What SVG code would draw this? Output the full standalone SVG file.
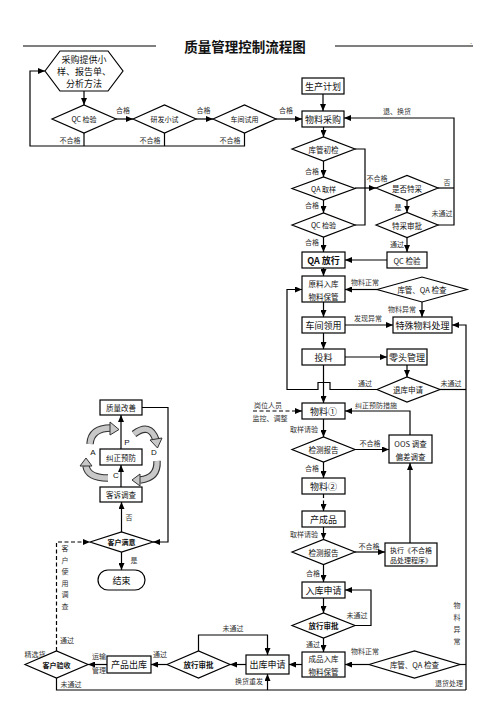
<svg xmlns="http://www.w3.org/2000/svg" width="496" height="702" viewBox="0 0 496 702">
<defs>
<style>
.bx{fill:#fff;stroke:#000;stroke-width:1.2}
.ln{fill:none;stroke:#000;stroke-width:1.2}
.ds{stroke-dasharray:4 2.5}
text{font-family:"Noto Sans CJK SC","Noto Sans",sans-serif;text-anchor:middle;dominant-baseline:central;fill:#111}
.n{font-size:9px}
.s{font-size:7.5px}
.d{font-size:7px}
.b{font-weight:bold}
.l{font-size:7px;fill:#333}
.arc{fill:none;stroke:#333;stroke-width:7.5}
.arci{fill:none;stroke:#c8c8c8;stroke-width:5.3}
.hd{fill:#c8c8c8;stroke:#333;stroke-width:1}
</style>
<marker id="ar" markerUnits="userSpaceOnUse" markerWidth="7" markerHeight="6" refX="7" refY="3" orient="auto"><path d="M0,0 L7,3 L0,6 z" fill="#000"/></marker>
</defs>
<rect width="496" height="702" fill="#fff"/>
<g id="title">
<line x1="23" y1="46" x2="156" y2="46" stroke="#000" stroke-width="1.2"/>
<line x1="335" y1="46" x2="473" y2="46" stroke="#000" stroke-width="1.2"/>
<text x="245" y="46" style="font-size:13.5px;font-weight:bold">质量管理控制流程图</text>
<text x="471" y="41" style="font-size:6px">.</text>
</g>
<g id="connectors">
<path class="ln" d="M84,91 V105" marker-end="url(#ar)"/>
<path class="ln" d="M116,119 H133" marker-end="url(#ar)"/>
<path class="ln" d="M196,119 H213" marker-end="url(#ar)"/>
<path class="ln" d="M276,119 H302" marker-end="url(#ar)"/>
<path class="ln" d="M84,133 V146"/>
<path class="ln" d="M164.5,133 V146"/>
<path class="ln" d="M244.5,133 V146 H30 V71 H45" marker-end="url(#ar)"/>
<path class="ln" d="M323,94 V111" marker-end="url(#ar)"/>
<path class="ln" d="M323.5,127 V137" marker-end="url(#ar)"/>
<path class="ln" d="M323.5,161 V177" marker-end="url(#ar)"/>
<path class="ln" d="M323.5,200 V213" marker-end="url(#ar)"/>
<path class="ln" d="M323.5,237 V252" marker-end="url(#ar)"/>
<path class="ln" d="M355,149 H365 V225 H355"/>
<path class="ln" d="M355,188 H376" marker-end="url(#ar)"/>
<path class="ln" d="M407,200.5 V212.5" marker-end="url(#ar)"/>
<path class="ln" d="M407,237.5 V252" marker-end="url(#ar)"/>
<path class="ln" d="M387,260 H345" marker-end="url(#ar)"/>
<path class="ln" d="M438,188 H454"/>
<path class="ln" d="M438,225 H454 V118 H344" marker-end="url(#ar)"/>
<path class="ln" d="M323.5,268 V276" marker-end="url(#ar)"/>
<path class="ln" d="M377,289.5 H345" marker-end="url(#ar)"/>
<path class="ln" d="M422,302 V317" marker-end="url(#ar)"/>
<path class="ln" d="M323.5,302 V317" marker-end="url(#ar)"/>
<path class="ln" d="M345,325 H393" marker-end="url(#ar)"/>
<path class="ln" d="M323.5,333 V349" marker-end="url(#ar)"/>
<path class="ln" d="M345,357 H387" marker-end="url(#ar)"/>
<path class="ln" d="M407,365 V377" marker-end="url(#ar)"/>
<path class="ln" d="M377,389.5 H330 V382.5 H318 V389.5 H287 V289.5 H302" marker-end="url(#ar)"/>
<path class="ln" d="M440,389.5 H466"/>
<path class="ln" d="M466,690 V325 H452" marker-end="url(#ar)"/>
<path class="ln" d="M56.5,678 V690 H466"/>
<path class="ln" d="M460,664.5 H466"/>
<path class="ln" d="M323.5,365 V403" marker-end="url(#ar)"/>
<path class="ln ds" d="M253,411 H302" marker-end="url(#ar)"/>
<path class="ln" d="M410,435 V411 H345" marker-end="url(#ar)"/>
<path class="ln" d="M323.5,419 V437" marker-end="url(#ar)"/>
<path class="ln" d="M355,449.5 H389" marker-end="url(#ar)"/>
<path class="ln" d="M323.5,462 V478" marker-end="url(#ar)"/>
<path class="ln ds" d="M323.5,494 V511" marker-end="url(#ar)"/>
<path class="ln" d="M323.5,527 V539.5" marker-end="url(#ar)"/>
<path class="ln" d="M355,552 H385" marker-end="url(#ar)"/>
<path class="ln" d="M410,543 V463" marker-end="url(#ar)"/>
<path class="ln" d="M323.5,564.5 V582" marker-end="url(#ar)"/>
<path class="ln" d="M323.5,598 V613" marker-end="url(#ar)"/>
<path class="ln" d="M355,625.5 H371 V590 H345" marker-end="url(#ar)"/>
<path class="ln" d="M323.5,638 V652" marker-end="url(#ar)"/>
<path class="ln" d="M369,664.5 H345" marker-end="url(#ar)"/>
<path class="ln" d="M302,664.5 H289" marker-end="url(#ar)"/>
<path class="ln" d="M246,664.5 H230" marker-end="url(#ar)"/>
<path class="ln" d="M198.5,651 V635 H267.5 V655" marker-end="url(#ar)"/>
<path class="ln" d="M167,664.5 H151" marker-end="url(#ar)"/>
<path class="ln" d="M107,664.5 H88" marker-end="url(#ar)"/>
<path class="ln" d="M267.5,690 V674" marker-end="url(#ar)"/>
<path class="ln ds" d="M56.5,651 V542 H90" marker-end="url(#ar)"/>
<path class="ln" d="M121,487 V465" marker-end="url(#ar)"/>
<path class="ln" d="M121,449 V415" marker-end="url(#ar)"/>
<path class="ln" d="M142,407.5 H168 V542 H153" marker-end="url(#ar)"/>
<path class="ln" d="M121.5,532 V502" marker-end="url(#ar)"/>
<path class="ln" d="M121.5,552 V570" marker-end="url(#ar)"/>
</g>
<g id="labels">
<text class="l" x="123" y="110">合格</text>
<text class="l" x="203.5" y="110">合格</text>
<text class="l" x="286" y="110">合格</text>
<text class="l" x="70" y="140">不合格</text>
<text class="l" x="150" y="140">不合格</text>
<text class="l" x="230" y="140">不合格</text>
<text class="l" x="397" y="111">退、换货</text>
<text class="l" x="312" y="171">合格</text>
<text class="l" x="312" y="205">合格</text>
<text class="l" x="312" y="242">合格</text>
<text class="l" x="377" y="178">不合格</text>
<text class="l" x="447" y="182">否</text>
<text class="l" x="398" y="207">是</text>
<text class="l" x="442" y="213">未通过</text>
<text class="l" x="397" y="244">通过</text>
<text class="l" x="365" y="282">物料正常</text>
<text class="l" x="402" y="309">物料异常</text>
<text class="l" x="368" y="318">发现异常</text>
<text class="l" x="365" y="383">通过</text>
<text class="l" x="451" y="383">未通过</text>
<text class="l" x="376" y="405">纠正预防措施</text>
<text class="l" x="268" y="405">岗位人员</text>
<text class="l" x="270" y="418">监控、调整</text>
<text class="l" x="304" y="429">取样请验</text>
<text class="l" x="370" y="443">不合格</text>
<text class="l" x="312" y="468">合格</text>
<text class="l" x="304" y="534">取样请验</text>
<text class="l" x="369" y="546">不合格</text>
<text class="l" x="313" y="573">合格</text>
<text class="l" x="357" y="615">未通过</text>
<text class="l" x="313" y="644">通过</text>
<text class="l" x="365" y="651">物料正常</text>
<text class="l" x="457" y="605">物</text>
<text class="l" x="457" y="617">料</text>
<text class="l" x="457" y="629">异</text>
<text class="l" x="457" y="641">常</text>
<text class="l" x="449" y="683">退货处理</text>
<text class="l" x="249" y="681">换货重发</text>
<text class="l" x="233" y="628">未通过</text>
<text class="l" x="160" y="654">通过</text>
<text class="l" x="99" y="656">运输</text>
<text class="l" x="99" y="670">管理</text>
<text class="l" x="35" y="654">精选货</text>
<text class="l" x="67" y="640">通过</text>
<text class="l" x="71" y="684">未通过</text>
<text class="l" x="65" y="548">客</text>
<text class="l" x="65" y="559.5">户</text>
<text class="l" x="65" y="571">使</text>
<text class="l" x="65" y="582.5">用</text>
<text class="l" x="65" y="594">调</text>
<text class="l" x="65" y="605.5">查</text>
<text class="l" x="129" y="517">否</text>
<text class="l" x="134" y="560">是</text>
</g>
<g id="pdca">
<path class="arc" d="M90,444 Q91,428 111,428"/>
<path class="arci" d="M90,444 Q91,428 111,428"/>
<polygon class="hd" points="110,422 110,435 119,429.5"/>
<path class="arc" d="M134,434 Q150,422 156,440"/>
<path class="arci" d="M134,434 Q150,422 156,440"/>
<polygon class="hd" points="150,440 162,438 157.5,448"/>
<path class="arc" d="M157,461 Q158,478 140,480"/>
<path class="arci" d="M157,461 Q158,478 140,480"/>
<polygon class="hd" points="140,474 140,486 132,480"/>
<path class="arc" d="M108,478 Q88,478 86,466"/>
<path class="arci" d="M108,478 Q88,478 86,466"/>
<polygon class="hd" points="80,466 92,466 86,458"/>
<text x="127" y="442" style="font-size:8px;font-family:'Liberation Sans',sans-serif">P</text>
<text x="93" y="452" style="font-size:8px;font-family:'Liberation Sans',sans-serif">A</text>
<text x="154" y="452" style="font-size:8px;font-family:'Liberation Sans',sans-serif">D</text>
<text x="116" y="475" style="font-size:8px;font-family:'Liberation Sans',sans-serif">C</text>
</g>
<g id="n_hex"><polygon class="bx" points="45,71 60,51 108,51 123,71 108,91 60,91"/><text class="n" x="84" y="59">采购提供小</text><text class="n" x="84" y="71">样、报告单、</text><text class="n" x="84" y="83">分析方法</text></g>
<g id="n_qc1"><polygon class="bx" points="52,119 84,105 116,119 84,133"/><text class="d" x="84" y="119">QC 检验</text></g>
<g id="n_yfxs"><polygon class="bx" points="133,119 164.5,105 196,119 164.5,133"/><text class="d" x="164.5" y="119">研发小试</text></g>
<g id="n_cjsy"><polygon class="bx" points="213,119 244.5,105 276,119 244.5,133"/><text class="d" x="244.5" y="119">车间试用</text></g>
<g id="n_plan"><rect class="bx" x="302" y="78" width="42" height="16"/><text class="n" x="323" y="86">生产计划</text></g>
<g id="n_buy"><rect class="bx" x="302" y="111" width="42" height="16"/><text class="n" x="323" y="119">物料采购</text></g>
<g id="n_kgcj"><polygon class="bx" points="292,149 323.5,137 355,149 323.5,161"/><text class="s" x="323.5" y="149">库管初检</text></g>
<g id="n_qaqy"><polygon class="bx" points="292,188.5 323.5,177 355,188.5 323.5,200"/><text class="d" x="323.5" y="188.5">QA 取样</text></g>
<g id="n_qc2"><polygon class="bx" points="292,225 323.5,213 355,225 323.5,237"/><text class="d" x="323.5" y="225">QC 检验</text></g>
<g id="n_qafx"><rect class="bx" x="302" y="252" width="43" height="16"/><text class="n b" x="323.5" y="260">QA 放行</text></g>
<g id="n_sftc"><polygon class="bx" points="376,188 407,175.5 438,188 407,200.5"/><text class="s" x="407" y="188">是否特采</text></g>
<g id="n_tcsp"><polygon class="bx" points="376,225 407,212.5 438,225 407,237.5"/><text class="s" x="407" y="225">特采审批</text></g>
<g id="n_qc3"><rect class="bx" x="387" y="252" width="40" height="16"/><text class="s" x="407" y="260">QC 检验</text></g>
<g id="n_ylrk"><rect class="bx" x="302" y="276" width="43" height="26"/><text class="s" x="323.5" y="283">原料入库</text><text class="s" x="323.5" y="296">物料保管</text></g>
<g id="n_kgqa1"><polygon class="bx" points="377,289.5 422,277 467,289.5 422,302"/><text class="s" x="422" y="289.5">库管、QA 检查</text></g>
<g id="n_cjly"><rect class="bx" x="302" y="317" width="43" height="16"/><text class="n" x="323.5" y="325">车间领用</text></g>
<g id="n_tswl"><rect class="bx" x="393" y="317" width="59" height="16"/><text class="n" x="422.5" y="325">特殊物料处理</text></g>
<g id="n_tl"><rect class="bx" x="302" y="349" width="43" height="16"/><text class="n" x="323.5" y="357">投料</text></g>
<g id="n_ltgl"><rect class="bx" x="387" y="349" width="40" height="16"/><text class="n" x="407" y="357">零头管理</text></g>
<g id="n_tksq"><polygon class="bx" points="377,389.5 407,377 440,389.5 407,402"/><text class="s" x="408" y="389.5">退库申请</text></g>
<g id="n_wl1"><rect class="bx" x="302" y="403" width="43" height="16"/><text class="n" x="323.5" y="411">物料①</text></g>
<g id="n_jc1"><polygon class="bx" points="292,449.5 323.5,437 355,449.5 323.5,462"/><text class="s" x="323.5" y="449.5">检测报告</text></g>
<g id="n_oos"><rect class="bx" x="389" y="435" width="43" height="28"/><text class="s" x="410.5" y="443">OOS 调查</text><text class="s" x="410.5" y="456">偏差调查</text></g>
<g id="n_wl2"><rect class="bx" x="302" y="478" width="43" height="16"/><text class="n" x="323.5" y="486">物料②</text></g>
<g id="n_ccp"><rect class="bx" x="302" y="511" width="43" height="16"/><text class="n" x="323.5" y="519">产成品</text></g>
<g id="n_jc2"><polygon class="bx" points="292,552 323.5,539.5 355,552 323.5,564.5"/><text class="s" x="323.5" y="552">检测报告</text></g>
<g id="n_zx"><rect class="bx" x="385" y="543" width="52" height="23"/><text class="d" x="411" y="549.5">执行《不合格</text><text class="d" x="411" y="560">品处理程序》</text></g>
<g id="n_rksq"><rect class="bx" x="302" y="582" width="43" height="16"/><text class="n" x="323.5" y="590">入库申请</text></g>
<g id="n_fxsp1"><polygon class="bx" points="292,625.5 323.5,613 355,625.5 323.5,638"/><text class="s b" x="323.5" y="625.5">放行审批</text></g>
<g id="n_cprk"><rect class="bx" x="302" y="652" width="43" height="25"/><text class="s" x="323.5" y="658">成品入库</text><text class="s" x="323.5" y="671">物料保管</text></g>
<g id="n_kgqa2"><polygon class="bx" points="369,664.5 414.5,651 460,664.5 414.5,678"/><text class="s" x="414.5" y="664.5">库管、QA 检查</text></g>
<g id="n_cksq"><rect class="bx" x="246" y="655" width="43" height="19"/><text class="n" x="267.5" y="664.5">出库申请</text></g>
<g id="n_fxsp2"><polygon class="bx" points="167,664.5 198.5,651 230,664.5 198.5,678"/><text class="s b" x="198.5" y="664.5">放行审批</text></g>
<g id="n_cpck"><rect class="bx" x="107" y="656" width="44" height="17"/><text class="n" x="129" y="664.5">产品出库</text></g>
<g id="n_khys"><polygon class="bx" points="25,664.5 56.5,651 88,664.5 56.5,678"/><text class="d b" x="56.5" y="664.5">客户验收</text></g>
<g id="n_zlgs"><rect class="bx" x="100" y="400" width="42" height="15"/><text class="s" x="121" y="407.5">质量改善</text></g>
<g id="n_jzyf"><rect class="bx" x="100" y="449" width="42" height="16"/><text class="s" x="121" y="457">纠正预防</text></g>
<g id="n_kstc"><rect class="bx" x="100" y="487" width="42" height="15"/><text class="s" x="121" y="494.5">客诉调查</text></g>
<g id="n_khmy"><polygon class="bx" points="90,542 121.5,532 153,542 121.5,552"/><text class="d b" x="121.5" y="542">客户满意</text></g>
<g id="n_end"><rect class="bx" x="98" y="570" width="47" height="20" rx="10"/><text class="n" x="121.5" y="580">结束</text></g>
</svg>
